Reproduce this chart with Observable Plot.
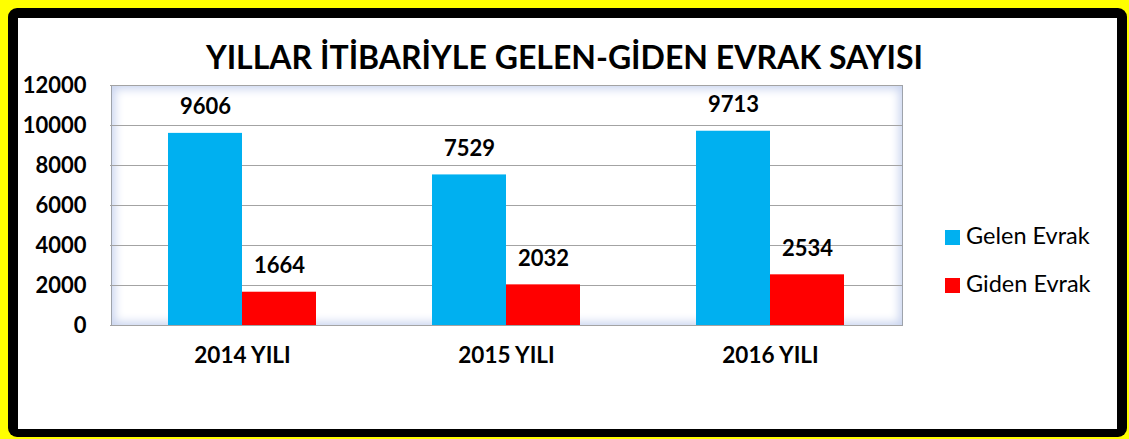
<!DOCTYPE html>
<html>
<head>
<meta charset="utf-8">
<script src="https://cdn.jsdelivr.net/npm/d3@7"></script>
<script src="https://cdn.jsdelivr.net/npm/@observablehq/plot@0.6"></script>
<style>
  html, body { margin: 0; padding: 0; overflow: hidden; background: #ffff00; }
  #page { position: relative; width: 1129px; height: 439px; background: #ffff00; font-family: Lato, "Open Sans", sans-serif; }
  #black { position: absolute; left: 8px; top: 8px; width: 1119px; height: 429px; background: #000; border-radius: 9px; }
  #white { position: absolute; left: 18px; top: 18px; width: 1099px; height: 411px; background: #fff; }
  #backdrop { position: absolute; left: 111px; top: 85px; width: 790px; height: 239px; border: 1px solid #9ea3ab;
    background: #fff; box-shadow: inset 0 0 10px 3px #c9d4ef; }
  #title { position: absolute; left: 0; width: 1129px; top: 37px; text-align: center; font-weight: 700; font-size: 32px; line-height: 40px; color: #000; white-space: nowrap; }
  #chart { position: absolute; left: 0; top: 0; }
  .leg { position: absolute; left: 945px; font-size: 23.5px; line-height: 28px; color: #000; white-space: nowrap; }
  .leg span.sw { display: inline-block; width: 15px; height: 15px; margin-right: 6px; vertical-align: -1px; }
</style>
</head>
<body>
<div id="page">
  <div id="black"></div>
  <div id="white"></div>
  <div id="backdrop"></div>
  <div id="title">YILLAR İTİBARİYLE GELEN-GİDEN EVRAK SAYISI</div>
  <div id="chart"></div>
  <div id="legend"></div>
</div>
<script>
const years = ["2014 YILI", "2015 YILI", "2016 YILI"];
const series = ["Gelen Evrak", "Giden Evrak"];
const gelen = [9606, 7529, 9713];
const giden = [1664, 2032, 2534];
const colors = ["#00b0f0", "#ff0000"];
const yTicks = [0, 2000, 4000, 6000, 8000, 10000, 12000];

const table = [];
years.forEach((y, i) => {
  table.push({year: y, series: series[0], value: gelen[i]});
  table.push({year: y, series: series[1], value: giden[i]});
});

const chart = Plot.plot({
  width: 1129,
  height: 400,
  marginLeft: 110,
  marginRight: 227,
  marginTop: 85,
  marginBottom: 75,
  style: {fontFamily: "Lato, 'Open Sans', sans-serif", background: "transparent", color: "#000"},
  fx: {domain: years, padding: 0, label: null},
  x: {domain: series, paddingInner: 0, paddingOuter: 0.77, axis: null},
  y: {domain: [0, 12000], label: null},
  color: {domain: series, range: colors},
  marks: [
    Plot.gridY({ticks: yTicks, stroke: "#a3a3a3", strokeOpacity: 1, strokeWidth: 1.2}),
    Plot.barY(table, {fx: "year", x: "series", y: "value", fill: "series"}),
    Plot.text(table, {fx: "year", x: "series", y: "value", text: d => String(d.value), dy: -26, fontSize: 22, fontWeight: "bold", fill: "#000"}),
    Plot.axisY({ticks: yTicks, tickSize: 0, tickPadding: 24, fontSize: 22, fontWeight: "bold", tickFormat: d => String(d), label: null}),
    Plot.axisFx({anchor: "bottom", tickSize: 0, tickPadding: 22, fontSize: 22.5, fontWeight: "bold", label: null})
  ]
});
document.getElementById("chart").appendChild(chart);

const legend = document.getElementById("legend");
const legTops = [221, 269];
series.forEach((s, i) => {
  const d = document.createElement("div");
  d.className = "leg";
  d.style.top = legTops[i] + "px";
  d.innerHTML = `<span class="sw" style="background:${colors[i]}"></span>${s}`;
  legend.appendChild(d);
});
</script>
</body>
</html>
